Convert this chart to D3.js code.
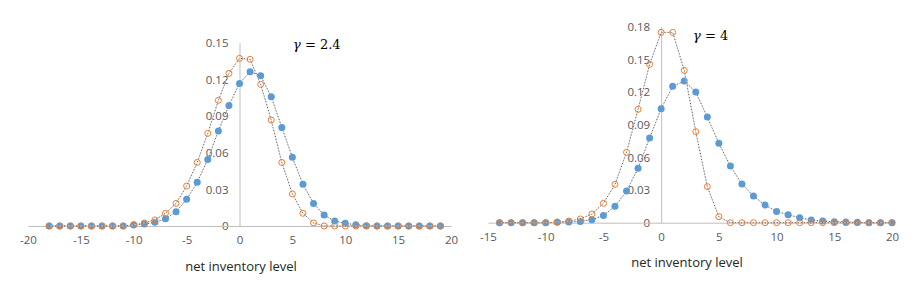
<!DOCTYPE html>
<html><head><meta charset="utf-8">
<script src="https://cdn.jsdelivr.net/npm/d3@7"></script>
<style>
body{margin:0;background:#fff;}
svg{display:block;}
</style></head>
<body><svg id="c" width="914" height="288"></svg>
<script>
// Left chart (gamma = 2.4)
const leftX = d3.range(-18, 20); // -18..19
const leftBlue = [0,0,0,0,0,0,0,0,0.001,0.0016,0.003,0.006,0.0117,0.0218,0.0357,0.0545,0.0777,0.0987,0.1167,0.1263,0.123,0.1058,0.0807,0.0562,0.0341,0.0185,0.009,0.0041,0.0022,0.001,0.0003,0,0,0,0,0,0,0];
const leftOrange = [0,0,0,0,0,0,0,0,0.0008,0.0025,0.005,0.0104,0.0185,0.0327,0.052,0.0758,0.1028,0.1249,0.1372,0.1364,0.1159,0.0867,0.052,0.0262,0.0104,0.0025,0,0,0,0,0,0,0,0,0,0,0,0];
const leftXTicks = [-20,-15,-10,-5,0,5,10,15,20];
const leftYTicks = [0,0.03,0.06,0.09,0.12,0.15];
const leftLabel = "2.4";

// Right chart (gamma = 4)
const rightX = d3.range(-14, 21); // -14..20
const rightBlue = [0,0,0,0,0,0.0003,0.0006,0.0012,0.0028,0.0067,0.015,0.029,0.0499,0.0778,0.1047,0.1252,0.1301,0.12,0.097,0.0729,0.052,0.0355,0.0245,0.0162,0.0104,0.0073,0.0046,0.0024,0.0015,0.0009,0.0006,0.0003,0,0,0];
const rightOrange = [0,0,0,0,0,0.0006,0.0015,0.0034,0.008,0.0178,0.0352,0.0646,0.1041,0.1454,0.1748,0.1748,0.1399,0.0836,0.0331,0.0055,0,0,0,0,0,0,0,0,0,0,0,0,0,0,0];
const rightXTicks = [-15,-10,-5,0,5,10,15,20];
const rightYTicks = [0,0.03,0.06,0.09,0.12,0.15,0.18];
const rightLabel = "4";

const xTitle = "net inventory level";
const BLUE = "#5b9bd5", ORANGE = "#ed7d31";
const SERIF = "'DejaVu Serif', serif";

const svg = d3.select("#c");

function chart(cfg){
  const g = svg.append("g");
  const x = d3.scaleLinear().domain(cfg.xDom).range(cfg.xRange);
  const y = d3.scaleLinear().domain(cfg.yDom).range(cfg.yRange);

  const fmt = v => v === 0 ? "0" : v.toFixed(2);

  const ya = g.append("g").attr("transform", `translate(${x(0)},0)`)
    .call(d3.axisLeft(y).tickValues(cfg.yTicks).tickFormat(fmt).tickSize(0).tickPadding(11));
  ya.select(".domain").attr("stroke", "#bfbfbf");
  ya.selectAll("text").attr("fill", "#595959").style("font", "11.5px 'Open Sans'");

  const xa = g.append("g").attr("transform", `translate(0,${y(0)})`)
    .call(d3.axisBottom(x).tickValues(cfg.xTicks).tickFormat(d => String(d)).tickSize(0).tickPadding(10));
  xa.select(".domain").attr("stroke", "#bfbfbf");
  xa.selectAll("text").attr("fill", "#595959").style("font", "11.5px 'Open Sans'");

  const line = d3.line().x(d => x(d[0])).y(d => y(d[1]));

  function series(vals, color, filled){
    const pts = cfg.xs.map((v,i) => [v, vals[i]]);
    g.append("path").attr("d", line(pts)).attr("fill","none")
      .attr("stroke","#d4d4d4").attr("stroke-width",0.8);
    g.append("path").attr("d", line(pts)).attr("fill","none")
      .attr("stroke","#595959").attr("stroke-width",1).attr("stroke-dasharray","1,2");
    g.append("g").selectAll("circle").data(pts).join("circle")
      .attr("cx", d => x(d[0])).attr("cy", d => y(d[1]))
      .attr("r", filled ? 3.5 : 3)
      .attr("fill", filled ? color : "none")
      .attr("stroke", filled ? "none" : color)
      .attr("stroke-width", 1);
  }
  series(cfg.blue, BLUE, true);
  series(cfg.orange, ORANGE, false);

  g.append("text").attr("x", cfg.titleX).attr("y", cfg.titleY)
    .attr("text-anchor","middle").attr("fill","#262626")
    .style("font","13px 'Open Sans'").text(xTitle);

  const gl = g.append("text").attr("x", cfg.gx).attr("y", cfg.gy)
    .attr("fill","#000")
    .style("font-family", SERIF).style("font-size","13px");
  gl.append("tspan").style("font-family", SERIF).style("font-style","italic").text("γ");
  gl.append("tspan").style("font-family", SERIF).text(" = " + cfg.label);
}

chart({xs:leftX, blue:leftBlue, orange:leftOrange, xDom:[-20,20], xRange:[28,451],
  yDom:[0,0.15], yRange:[226,42.7], xTicks:leftXTicks, yTicks:leftYTicks,
  titleX:241, titleY:271, gx:293, gy:49, label:leftLabel});
chart({xs:rightX, blue:rightBlue, orange:rightOrange, xDom:[-15,20], xRange:[488,892],
  yDom:[0,0.18], yRange:[222.7,26.7], xTicks:rightXTicks, yTicks:rightYTicks,
  titleX:687, titleY:267, gx:693, gy:40, label:rightLabel});
</script></body></html>
